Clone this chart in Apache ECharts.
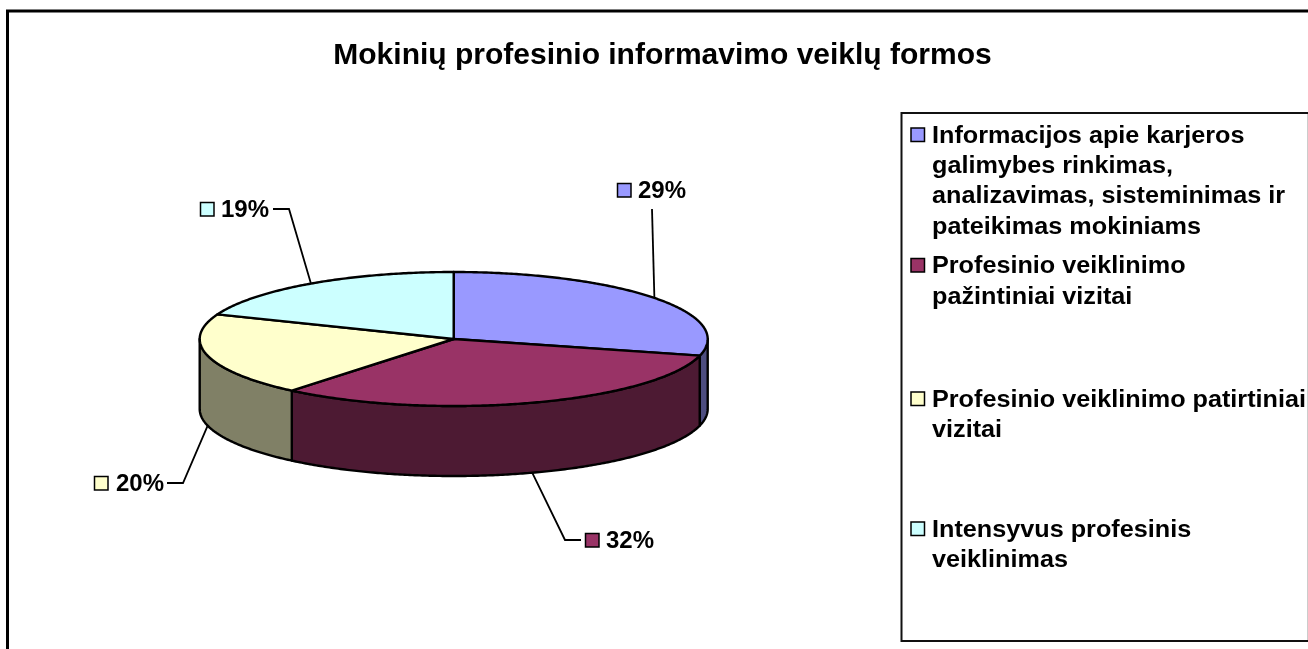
<!DOCTYPE html>
<html>
<head>
<meta charset="utf-8">
<style>html,body{margin:0;padding:0;background:#fff;overflow:hidden}#c{width:1308px;height:649px}</style>
<script src="https://cdn.jsdelivr.net/npm/echarts@6/dist/echarts.min.js"></script>
</head>
<body>
<div id="c"></div>
<script>
const titleText = 'Mokinių profesinio informavimo veiklų formos';
const categories = [
  ['Informacijos apie karjeros', 'galimybes rinkimas,', 'analizavimas, sisteminimas ir', 'pateikimas mokiniams'],
  ['Profesinio veiklinimo', 'pažintiniai vizitai'],
  ['Profesinio veiklinimo patirtiniai', 'vizitai'],
  ['Intensyvus profesinis', 'veiklinimas']
];
const values = [29, 32, 20, 19];
const topColors = ['#9999FF', '#993366', '#FFFFCC', '#CCFFFF'];
const sideColors = ['#4D4D80', '#4D1A33', '#808066', '#668080'];

const pie = {cx: 453.7, cy: 339, rx: 254, ry: 67, depth: 70};
const labelLayout = [
  {swatchX: 617, y: 190, textX: 638, line: [[652, 209]], onTop: true},
  {swatchX: 585, y: 540, textX: 606, line: [[565, 540], [581, 540]], onTop: false},
  {swatchX: 94, y: 483, textX: 116, line: [[183, 483], [167, 483]], onTop: false},
  {swatchX: 200, y: 209, textX: 221, line: [[289, 209], [273, 209]], onTop: true}
];
const legendRows = [135, 265.5, 399, 529];
const LINE_H = 30.3;
const total = values.reduce((a, b) => a + b, 0);

function startAngle(i) {
  let s = 0;
  for (let k = 0; k < i; k++) s += values[k];
  return s / total * 2 * Math.PI;
}
function pt(a, dy) {
  return [pie.cx + pie.rx * Math.sin(a), pie.cy - pie.ry * Math.cos(a) + (dy || 0)];
}
function arc(a0, a1, dy) {
  const n = Math.max(2, Math.ceil((a1 - a0) / 0.01));
  const out = [];
  for (let i = 0; i <= n; i++) out.push(pt(a0 + (a1 - a0) * i / n, dy));
  return out;
}
const stroke = {stroke: '#000', lineWidth: 2.4, lineJoin: 'round'};

const chart = echarts.init(document.getElementById('c'), null, {renderer: 'canvas'});
const seriesData = values.map((v, i) => ({value: [v, i]}));

chart.setOption({
  animation: false,
  backgroundColor: '#fff',
  title: {
    text: titleText, left: 657.5, top: 36, textAlign: 'center',
    textStyle: {fontFamily: 'Liberation Sans', fontWeight: 'bold', fontSize: 30, color: '#000'}
  },
  graphic: {elements: [
    {type: 'polyline', silent: true, shape: {points: [[7.5, 649], [7.5, 11], [1308, 11]]},
      style: {fill: null, stroke: '#000', lineWidth: 3}},
    {type: 'rect', silent: true, shape: {x: 901.5, y: 113, width: 420, height: 528},
      style: {fill: '#fff', stroke: '#111', lineWidth: 2}},
    {type: 'line', silent: true, shape: {x1: 1307.5, y1: 114, x2: 1307.5, y2: 640},
      style: {stroke: '#ccc', lineWidth: 1}},
    ...categories.flatMap((lines, i) => [
      {type: 'rect', silent: true, shape: {x: 911, y: legendRows[i] - 7, width: 13.5, height: 13.5},
        style: {fill: topColors[i], stroke: '#000', lineWidth: 1.5}},
      ...lines.map((t, j) => ({type: 'text', silent: true, z: 5,
        x: 932, y: legendRows[i] + 1.5 + j * LINE_H, scaleX: 1.096,
        style: {x: 0, y: 0, text: t, fill: '#000',
          font: 'bold 23px "Liberation Sans"', textVerticalAlign: 'middle'}}))
    ])
  ]},
  series: [
    {
      type: 'custom', coordinateSystem: 'none', silent: true, z: 1, data: seriesData,
      renderItem(params, api) {
        const i = api.value(1);
        const a0 = Math.max(startAngle(i), Math.PI / 2);
        const a1 = Math.min(startAngle(i) + api.value(0) / total * 2 * Math.PI, Math.PI * 1.5);
        if (a1 <= a0) return {type: 'group', children: []};
        const points = arc(a0, a1, 0).concat(arc(a0, a1, pie.depth).reverse());
        return {type: 'polygon', shape: {points}, style: {fill: sideColors[i], ...stroke}};
      }
    },
    {
      type: 'custom', coordinateSystem: 'none', silent: true, z: 2, data: seriesData,
      renderItem(params, api) {
        const i = api.value(1);
        const a0 = startAngle(i);
        const a1 = a0 + api.value(0) / total * 2 * Math.PI;
        const points = [[pie.cx, pie.cy]].concat(arc(a0, a1, 0));
        return {type: 'polygon', shape: {points}, style: {fill: topColors[i], ...stroke}};
      }
    },
    {
      type: 'custom', coordinateSystem: 'none', silent: true, z: 3, data: seriesData,
      renderItem(params, api) {
        const i = api.value(1);
        const mid = startAngle(i) + api.value(0) / total * Math.PI;
        const L = labelLayout[i];
        const anchor = pt(mid, L.onTop ? 0 : pie.depth);
        return {type: 'group', children: [
          {type: 'polyline', shape: {points: [anchor].concat(L.line)},
            style: {fill: null, stroke: '#000', lineWidth: 1.8}},
          {type: 'rect', shape: {x: L.swatchX + 0.5, y: L.y - 6.5, width: 13.5, height: 13.5},
            style: {fill: topColors[i], stroke: '#000', lineWidth: 1.5}},
          {type: 'text', style: {x: L.textX, y: L.y + 1, text: api.value(0) + '%', fill: '#000',
            font: 'bold 24px "Liberation Sans"', textVerticalAlign: 'middle'}}
        ]};
      }
    }
  ]
});
</script>
</body>
</html>
